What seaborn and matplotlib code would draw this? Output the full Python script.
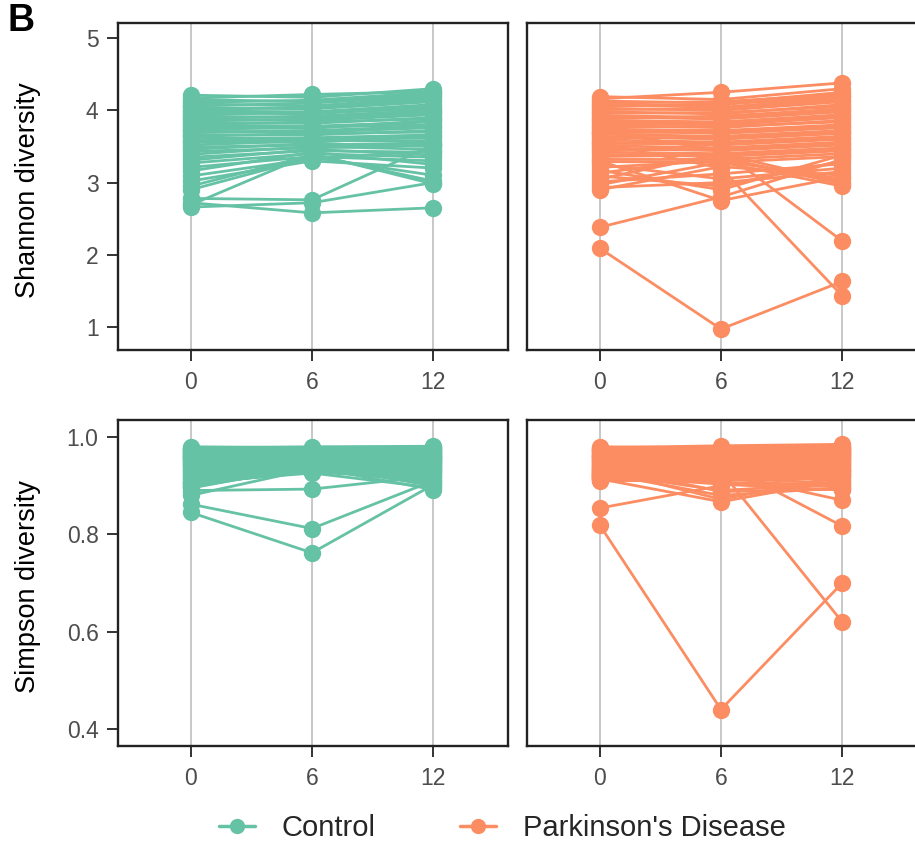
import numpy as np
import pandas as pd
import matplotlib
matplotlib.use("Agg")
import matplotlib.pyplot as plt
from matplotlib.lines import Line2D
import seaborn as sns

months = [0, 6, 12]
groups = ["Control", "Parkinson's Disease"]
colors = ["#66c2a5", "#fc8d62"]

# Control subjects: Shannon diversity at month 0, 6, 12
ctrl_sh_0 = [4.21, 4.17, 4.15, 4.11, 4.09, 4.06, 4.04, 4.01, 3.99, 3.97, 3.94, 3.92, 3.89, 3.88, 3.85,
             3.83, 3.80, 3.79, 3.76, 3.73, 3.71, 3.69, 3.66, 3.64, 3.61, 3.58, 3.56, 3.52, 3.49, 3.46,
             3.43, 3.39, 3.35, 3.31, 3.27, 3.21, 3.16, 3.09, 3.02, 2.95, 2.90, 2.78, 2.72, 2.69, 2.66]
ctrl_sh_6 = [4.18, 4.22, 4.12, 4.14, 4.06, 4.10, 4.02, 4.04, 3.98, 3.95, 3.97, 3.90, 3.92, 3.86, 3.88,
             3.82, 3.84, 3.78, 3.75, 3.77, 3.70, 3.72, 3.66, 3.68, 3.62, 3.60, 3.56, 3.58, 3.52, 3.54,
             3.48, 3.50, 3.44, 3.46, 3.40, 3.36, 3.42, 3.33, 3.30, 3.38, 3.35, 2.76, 2.58, 3.40, 2.72]
ctrl_sh_12 = [4.30, 4.26, 4.22, 4.25, 4.18, 4.20, 4.12, 4.15, 4.08, 4.05, 4.02, 3.98, 4.00, 3.94, 3.96,
              3.90, 3.88, 3.84, 3.86, 3.80, 3.76, 3.78, 3.72, 3.70, 3.66, 3.62, 3.64, 3.58, 3.55, 3.50,
              3.52, 3.46, 3.42, 3.38, 3.35, 3.30, 3.25, 3.44, 3.20, 3.02, 3.10, 3.52, 2.65, 2.98, 3.00]

# Control subjects: Simpson diversity
ctrl_si_0 = [0.980, 0.978, 0.976, 0.975, 0.973, 0.972, 0.970, 0.969, 0.967, 0.966, 0.964, 0.962, 0.961, 0.959, 0.957,
             0.956, 0.954, 0.952, 0.950, 0.948, 0.946, 0.944, 0.942, 0.940, 0.938, 0.935, 0.933, 0.930, 0.927, 0.924,
             0.921, 0.918, 0.915, 0.912, 0.908, 0.905, 0.902, 0.898, 0.895, 0.906, 0.900, 0.890, 0.862, 0.845, 0.880]
ctrl_si_6 = [0.978, 0.980, 0.975, 0.976, 0.972, 0.974, 0.969, 0.970, 0.966, 0.967, 0.963, 0.965, 0.960, 0.961, 0.957,
             0.958, 0.954, 0.955, 0.951, 0.952, 0.948, 0.949, 0.945, 0.946, 0.942, 0.943, 0.940, 0.938, 0.936, 0.937,
             0.934, 0.935, 0.932, 0.930, 0.933, 0.928, 0.931, 0.936, 0.941, 0.926, 0.938, 0.893, 0.812, 0.762, 0.935]
ctrl_si_12 = [0.979, 0.981, 0.976, 0.977, 0.973, 0.975, 0.970, 0.972, 0.967, 0.968, 0.964, 0.965, 0.961, 0.962, 0.958,
              0.959, 0.955, 0.956, 0.952, 0.953, 0.949, 0.950, 0.946, 0.947, 0.943, 0.944, 0.940, 0.938, 0.935, 0.936,
              0.932, 0.929, 0.926, 0.922, 0.918, 0.914, 0.910, 0.905, 0.900, 0.896, 0.892, 0.920, 0.910, 0.902, 0.930]

# Parkinson's Disease subjects: Shannon diversity
pd_sh_0 = [4.19, 4.16, 4.13, 4.10, 4.08, 4.06, 4.03, 4.01, 3.98, 3.96, 3.93, 3.91, 3.88, 3.86, 3.84,
           3.81, 3.79, 3.77, 3.74, 3.72, 3.69, 3.67, 3.64, 3.62, 3.59, 3.56, 3.54, 3.51, 3.48, 3.45,
           3.42, 3.39, 3.36, 3.32, 3.29, 3.25, 3.21, 3.17, 3.13, 3.09, 3.05, 3.01, 2.97, 2.93, 2.90,
           3.55, 3.70, 2.38, 2.09, 3.30]
pd_sh_6 = [4.15, 4.25, 4.10, 4.12, 4.04, 4.08, 4.00, 4.02, 3.95, 3.97, 3.90, 3.88, 3.92, 3.84, 3.80,
           3.82, 3.76, 3.78, 3.72, 3.68, 3.70, 3.64, 3.60, 3.62, 3.56, 3.52, 3.54, 3.48, 3.44, 3.46,
           3.40, 3.36, 3.38, 3.32, 3.28, 3.05, 3.30, 2.90, 3.35, 2.95, 3.40, 3.12, 3.28, 3.00, 3.22,
           3.20, 3.45, 2.80, 0.97, 2.75]
pd_sh_12 = [4.30, 4.38, 4.25, 4.22, 4.18, 4.20, 4.12, 4.15, 4.08, 4.05, 4.00, 3.98, 4.02, 3.94, 3.90,
            3.92, 3.86, 3.84, 3.80, 3.76, 3.78, 3.72, 3.68, 3.70, 3.64, 3.60, 3.62, 3.56, 3.52, 3.54,
            3.48, 3.44, 3.46, 3.40, 3.36, 3.20, 3.05, 3.38, 2.98, 3.30, 3.00, 3.26, 2.95, 3.15, 3.10,
            1.43, 2.19, 3.32, 1.63, 3.08]

# Parkinson's Disease subjects: Simpson diversity
pd_si_0 = [0.980, 0.978, 0.976, 0.974, 0.973, 0.971, 0.969, 0.968, 0.966, 0.964, 0.962, 0.961, 0.959, 0.957, 0.955,
           0.953, 0.951, 0.949, 0.947, 0.945, 0.943, 0.941, 0.939, 0.937, 0.935, 0.932, 0.930, 0.928, 0.925, 0.923,
           0.920, 0.918, 0.915, 0.913, 0.910, 0.922, 0.931, 0.940, 0.917, 0.926, 0.912, 0.934, 0.921, 0.914, 0.919,
           0.950, 0.958, 0.854, 0.819, 0.927]
pd_si_6 = [0.978, 0.982, 0.975, 0.976, 0.972, 0.973, 0.969, 0.970, 0.966, 0.967, 0.963, 0.961, 0.964, 0.958, 0.955,
           0.957, 0.952, 0.953, 0.949, 0.946, 0.948, 0.943, 0.940, 0.942, 0.937, 0.934, 0.936, 0.930, 0.927, 0.929,
           0.924, 0.920, 0.922, 0.916, 0.912, 0.905, 0.925, 0.888, 0.915, 0.880, 0.907, 0.872, 0.903, 0.867, 0.925,
           0.930, 0.948, 0.900, 0.440, 0.890]
pd_si_12 = [0.981, 0.985, 0.978, 0.979, 0.975, 0.976, 0.972, 0.973, 0.969, 0.970, 0.966, 0.964, 0.967, 0.961, 0.958,
            0.960, 0.955, 0.956, 0.952, 0.949, 0.951, 0.946, 0.943, 0.945, 0.940, 0.937, 0.939, 0.933, 0.930, 0.932,
            0.927, 0.923, 0.925, 0.919, 0.915, 0.898, 0.910, 0.893, 0.905, 0.896, 0.902, 0.920, 0.891, 0.912, 0.870,
            0.620, 0.817, 0.930, 0.700, 0.905]

shannon_ticks = [1, 2, 3, 4, 5]
simpson_ticks = [0.4, 0.6, 0.8, 1.0]
simpson_ticklabels = ["0.4", "0.6", "0.8", "1.0"]


def long_df(group, v0, v6, v12, prefix):
    rows = []
    for i, vals in enumerate(zip(v0, v6, v12)):
        for m, v in zip(months, vals):
            rows.append({"subject": f"{prefix}{i}", "month": m, "value": v, "group": group})
    return pd.DataFrame(rows)


sns.set_theme(style="white")
plt.rcParams["font.family"] = ["Liberation Sans", "DejaVu Sans"]

fig = plt.figure(figsize=(9.15, 8.43), dpi=100)
W, H = 915, 843


def add_ax(x0, x1, y0, y1):
    return fig.add_axes([x0 / W, (H - y1) / H, (x1 - x0) / W, (y1 - y0) / H])


panels = [
    (add_ax(118, 508, 23, 350), long_df(groups[0], ctrl_sh_0, ctrl_sh_6, ctrl_sh_12, "c"), 0, "sh", True),
    (add_ax(527, 917, 23, 350), long_df(groups[1], pd_sh_0, pd_sh_6, pd_sh_12, "p"), 1, "sh", False),
    (add_ax(118, 508, 420, 746), long_df(groups[0], ctrl_si_0, ctrl_si_6, ctrl_si_12, "c"), 0, "si", True),
    (add_ax(527, 917, 420, 746), long_df(groups[1], pd_si_0, pd_si_6, pd_si_12, "p"), 1, "si", False),
]

for ax, df, gi, kind, left in panels:
    ax.set_axisbelow(True)
    ax.grid(axis="x", color="#c4c4c4", lw=1.3)
    ax.grid(axis="y", visible=False)
    sns.lineplot(data=df, x="month", y="value", units="subject", estimator=None,
                 color=colors[gi], marker="o", markersize=12.5, markeredgewidth=0,
                 linewidth=2.0, sort=False, legend=False, ax=ax)
    ax.set_xlim(-3.6, 15.7)
    ax.set_xticks(months)
    ax.set_xticklabels([str(m) for m in months])
    if kind == "sh":
        ax.set_ylim(0.68, 5.21)
        ax.set_yticks(shannon_ticks)
        ax.set_yticklabels([str(t) for t in shannon_ticks])
        ylabel = "Shannon diversity"
    else:
        ax.set_ylim(0.365, 1.035)
        ax.set_yticks(simpson_ticks)
        ax.set_yticklabels(simpson_ticklabels)
        ylabel = "Simpson diversity"
    ax.set_xlabel("")
    if left:
        ax.set_ylabel(ylabel, fontsize=19.5, color="black")
        ax.yaxis.set_label_coords((41 - 118) / 390, 0.49)
        ax.tick_params(axis="y", length=8, width=1.4, color="#333333", labelsize=16.5,
                       labelcolor="#4d4d4d", direction="out", left=True, pad=6)
    else:
        ax.set_ylabel("")
        ax.tick_params(axis="y", left=False, labelleft=False)
    ax.tick_params(axis="x", length=8, width=1.4, color="#333333", labelsize=16.5,
                   labelcolor="#4d4d4d", direction="out", bottom=True, pad=7)
    for s in ax.spines.values():
        s.set_color("#222222")
        s.set_linewidth(1.7)

fig.text(7 / W, 1 - 21 / H, "B", fontsize=27, fontweight="bold", ha="left", va="center", color="black")

handles = [Line2D([0], [0], color=c, marker="o", markersize=11, markeredgewidth=0, lw=2.5)
           for c in colors]
fig.legend(handles, groups, loc="center", bbox_to_anchor=(502 / W, 1 - 828 / H), ncol=2,
           frameon=False, fontsize=21, handlelength=1.25, columnspacing=2.9, handletextpad=0.9)

fig.savefig("out.png", dpi=100)
